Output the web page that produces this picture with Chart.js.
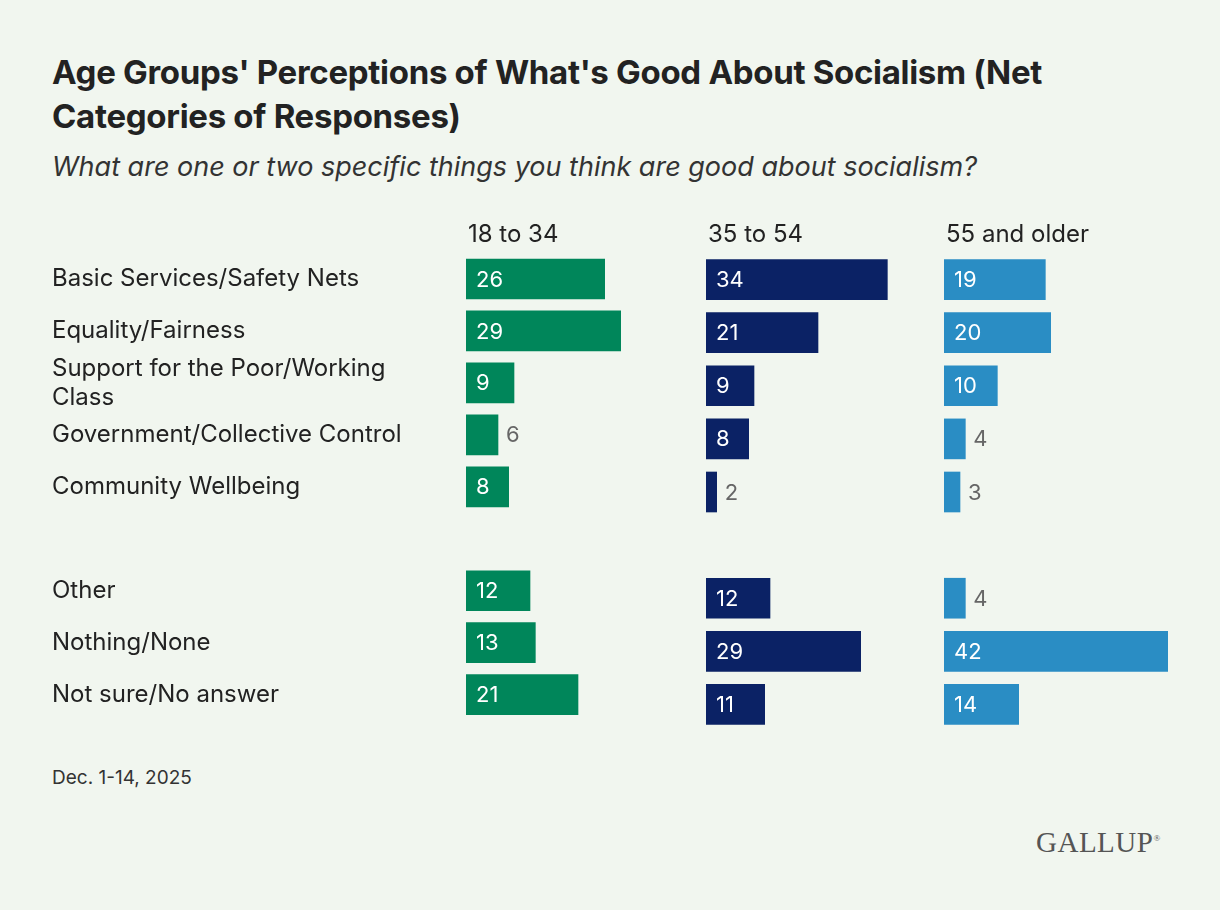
<!DOCTYPE html>
<html>
<head>
<meta charset="utf-8">
<script src="https://cdn.jsdelivr.net/npm/chart.js@4.4.1/dist/chart.umd.min.js"></script>
<style>
  body { margin:0; background:#f1f6ef; font-family:Inter, "Noto Sans", sans-serif; color:#222; }
  #wrap { position:relative; width:1220px; height:910px; overflow:hidden; }
  h1 { position:absolute; left:52px; top:50px; margin:0; font-size:33px; line-height:44px; font-weight:700; letter-spacing:-0.3px; width:1100px; }
  .sub { position:absolute; left:52px; top:150px; font-size:27px; font-style:italic; color:#333; }
  .note { position:absolute; left:52px; top:766px; font-size:19px; color:#333; }
  .logo { position:absolute; left:1036px; top:826px; font-family:"Liberation Serif", serif; font-size:29px; color:#555; letter-spacing:0.5px; }
  .box { position:absolute; top:215px; height:520px; }
</style>
</head>
<body>
<div id="wrap">
  <h1>Age Groups' Perceptions of What's Good About Socialism (Net Categories of Responses)</h1>
  <div class="sub">What are one or two specific things you think are good about socialism?</div>
  <div class="box" style="left:40px;width:650px"><canvas id="c1"></canvas></div>
  <div class="box" style="left:706px;width:224px"><canvas id="c2"></canvas></div>
  <div class="box" style="left:944px;width:224px"><canvas id="c3"></canvas></div>
  <div class="note">Dec. 1-14, 2025</div>
  <div class="logo">GALLUP<sup style="font-size:9px">®</sup></div>
</div>
<script>
// --- DATA ---
const categories = ['Basic Services/Safety Nets', 'Equality/Fairness', ['Support for the Poor/Working', 'Class'],
  'Government/Collective Control', 'Community Wellbeing', '', 'Other', 'Nothing/None', 'Not sure/No answer'];
const headers = ['18 to 34', '35 to 54', '55 and older'];
const age18to34 = [26, 29, 9, 6, 8, null, 12, 13, 21];
const age35to54 = [34, 21, 9, 8, 2, null, 12, 29, 11];
const age55plus = [19, 20, 10, 4, 3, null, 4, 42, 14];
const colors = ['#00865a', '#0b2265', '#2a8dc4'];

// --- CHART LOGIC ---
const valueLabels = {
  id: 'valueLabels',
  afterDatasetsDraw(chart) {
    const ctx = chart.ctx;
    const meta = chart.getDatasetMeta(0);
    ctx.save();
    ctx.font = '22px Inter, sans-serif';
    ctx.textBaseline = 'middle';
    meta.data.forEach((bar, i) => {
      const v = chart.data.datasets[0].data[i];
      if (v == null) return;
      const inside = v >= 8;
      ctx.fillStyle = inside ? '#fff' : '#666';
      ctx.fillText(v, inside ? bar.base + 10 : bar.x + 8, bar.y + 1);
    });
    // column header
    ctx.fillStyle = '#222';
    ctx.font = '24px Inter, sans-serif';
    ctx.fillText(chart.options.plugins.header, chart.chartArea.left + 2, chart.chartArea.top - 18);
    ctx.restore();
  }
};

function makeChart(id, data, color, header, showLabels) {
  new Chart(document.getElementById(id), {
    type: 'bar',
    data: { labels: categories, datasets: [{ data: data, backgroundColor: color, barThickness: 40 }] },
    options: {
      indexAxis: 'y',
      responsive: true,
      maintainAspectRatio: false,
      animation: false,
      layout: { padding: { top: 38, bottom: 4, left: showLabels ? 12 : 0, right: 0 } },
      plugins: { legend: { display: false }, tooltip: { enabled: false }, header: header },
      scales: {
        x: { display: false, min: 0, max: 42 },
        y: {
          display: showLabels,
          grid: { display: false },
          border: { display: false },
          ticks: { color: '#222', font: { size: 24, family: 'Inter, sans-serif' }, crossAlign: 'far', padding: 0, autoSkip: false },
          afterFit: s => { if (showLabels) s.width = 414; }
        }
      }
    },
    plugins: [valueLabels]
  });
}

makeChart('c1', age18to34, colors[0], headers[0], true);
makeChart('c2', age35to54, colors[1], headers[1], false);
makeChart('c3', age55plus, colors[2], headers[2], false);
</script>
</body>
</html>
